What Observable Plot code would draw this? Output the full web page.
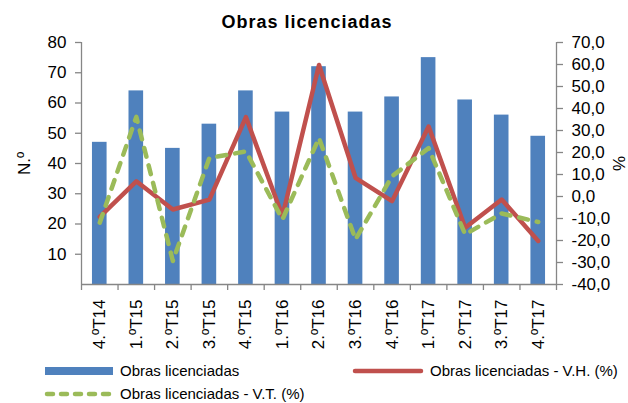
<!DOCTYPE html>
<html><head><meta charset="utf-8">
<script src="https://cdn.jsdelivr.net/npm/d3@7"></script>
<script src="https://cdn.jsdelivr.net/npm/@observablehq/plot@0.6"></script>
<style>
body{margin:0;background:#fff;font-family:"Liberation Sans",Arial,sans-serif;}
#wrap{position:relative;width:628px;height:403px;overflow:hidden;background:#fff;}
#title{position:absolute;left:0;top:12px;width:614px;text-align:center;font-weight:bold;font-size:18px;line-height:20px;letter-spacing:1px;color:#000;}
#chart{position:absolute;left:0;top:32px;}
#legend{position:absolute;left:0;top:355px;}
</style></head>
<body><div id="wrap"><div id="title">Obras licenciadas</div><div id="chart"></div><div id="legend"></div></div>
<script>
const quarters = ["4.ºT14","1.ºT15","2.ºT15","3.ºT15","4.ºT15","1.ºT16","2.ºT16","3.ºT16","4.ºT16","1.ºT17","2.ºT17","3.ºT17","4.ºT17"];
const obras = [47,64,45,53,64,57,72,57,62,75,61,56,49];
const varVH = [-9.3,6.9,-5.9,-1.4,36.1,-8.9,59.8,8.5,-2.1,31.8,-14.2,-1.4,-20.2];
const varVT = [-11.9,36.2,-29.3,17.5,20.5,-10.4,26.6,-19.5,9.2,22.0,-17.2,-7.7,-11.6];
const leftTicks = [10,20,30,40,50,60,70,80];
const rightTicks = [70,60,50,40,30,20,10,0,-10,-20,-30,-40];
const names = ["Obras licenciadas","Obras licenciadas - V.H. (%)","Obras licenciadas - V.T. (%)"];

const colBar = "#4F81BD", colVH = "#C0504D", colVT = "#9BBB59", axisCol = "#868686";
const toY = p => (p + 40) * 80 / 110;
const fromY = y => y * 110 / 80 - 40;
const fmt = v => (Math.round(v * 10) / 10).toFixed(1).replace(".", ",").replace("-0,0","0,0");

const data = quarters.map((q, i) => ({q, i, n: obras[i], vh: varVH[i], vt: varVT[i]}));

const chart = Plot.plot({
  width: 628, height: 320,
  marginLeft: 81, marginRight: 72, marginTop: 10, marginBottom: 68,
  style: {fontFamily: "'Liberation Sans', Arial, sans-serif", color: "#000", background: "#fff"},
  x: {type: "linear", domain: [0, quarters.length], axis: null},
  y: {domain: [0, 80], axis: null},
  marks: [
    Plot.rectY(data, {x1: d => d.i + 0.3, x2: d => d.i + 0.7, y: "n", fill: colBar}),
    Plot.ruleY([0], {stroke: axisCol, strokeWidth: 1.3}),
    Plot.ruleX([0, quarters.length], {stroke: axisCol, strokeWidth: 1.3}),
    Plot.axisX(d3.range(quarters.length + 1), {tickSize: 6, tickFormat: () => "", stroke: axisCol, strokeWidth: 1.3}),
    Plot.axisX(quarters.map((q, i) => i + 0.5), {tickSize: 0, tickPadding: 15, tickRotate: -90, tickFormat: v => quarters[Math.floor(v)], fontSize: 17, fill: "#000"}),
    Plot.axisY(leftTicks, {anchor: "left", tickSize: 6, tickPadding: 9, fontSize: 17, stroke: axisCol, strokeWidth: 1.3, fill: "#000",
      label: "N.º", labelAnchor: "center", labelArrow: false, labelOffset: 64}),
    Plot.axisY(rightTicks.map(toY), {anchor: "right", tickSize: 6, tickPadding: 9, fontSize: 17, stroke: axisCol, strokeWidth: 1.3, fill: "#000",
      tickFormat: v => fmt(fromY(v)), label: "%", labelAnchor: "center", labelArrow: false, labelOffset: 68}),
    Plot.line(data, {x: d => d.i + 0.5, y: d => toY(d.vh), stroke: colVH, strokeWidth: 4.5, strokeLinejoin: "round", strokeLinecap: "round"}),
    Plot.line(data, {x: d => d.i + 0.5, y: d => toY(d.vt), stroke: colVT, strokeWidth: 4.5, strokeDasharray: "9,9", strokeLinejoin: "round", strokeLinecap: "round"})
  ]
});
document.getElementById("chart").appendChild(chart);

// legend
const lg = d3.select("#legend").append("svg").attr("width", 628).attr("height", 48)
  .style("font-family", "'Liberation Sans', Arial, sans-serif").style("font-size", "15px");
lg.append("rect").attr("x", 45).attr("y", 12).attr("width", 68).attr("height", 8).attr("fill", colBar);
lg.append("text").attr("x", 120).attr("y", 21).text(names[0]);
lg.append("line").attr("x1", 355).attr("x2", 421).attr("y1", 16).attr("y2", 16).attr("stroke", colVH).attr("stroke-width", 4.5).attr("stroke-linecap", "round");
lg.append("text").attr("x", 430).attr("y", 21).text(names[1]);
lg.append("line").attr("x1", 47).attr("x2", 111).attr("y1", 39).attr("y2", 39).attr("stroke", colVT).attr("stroke-width", 4.5).attr("stroke-linecap", "round").attr("stroke-dasharray", "6,8");
lg.append("text").attr("x", 120).attr("y", 44).text(names[2]);
</script></body></html>
